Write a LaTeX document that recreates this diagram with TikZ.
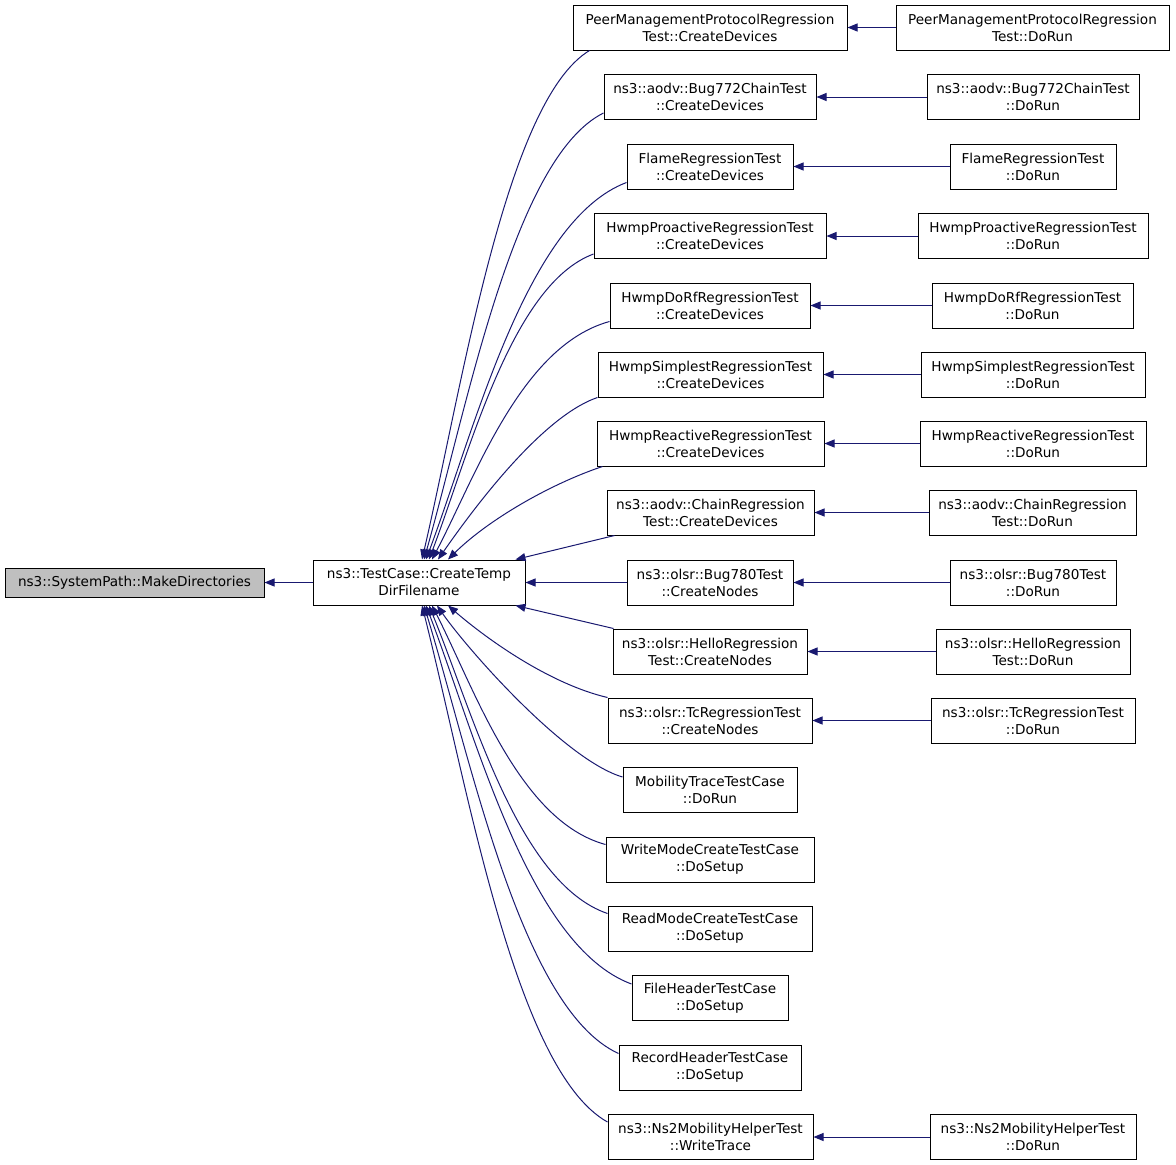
\documentclass[tikz,border=0pt]{standalone}
\usepackage{fontspec}
\setmainfont{DejaVu Sans}
\usetikzlibrary{arrows.meta,calc}
\definecolor{edgeblue}{HTML}{191970}
\definecolor{boxgray}{HTML}{BFBFBF}
\begin{document}
\begin{tikzpicture}[x=1pt,y=-1pt,
  box/.style={draw=black,line width=1pt,fill=white,inner sep=0pt,minimum height=45pt,align=center,
    font=\fontsize{13.6}{17}\selectfont},
  edge/.style={draw=edgeblue,line width=1pt,-{Triangle[length=10pt,width=8pt]},fill=none},
]
\useasboundingbox (0,0) rectangle (1176,1165);
% left
\node[box,fill=boxgray,minimum width=259pt,minimum height=29pt] (m) at (134.5,582.5) {ns3::SystemPath::MakeDirectories};
\node[box,minimum width=212pt] (t) at (419,582.5) {ns3::TestCase::CreateTemp\\DirFilename};
% column 2
\node[box,minimum width=274pt] (c1) at (710,27.5) {PeerManagementProtocolRegression\\Test::CreateDevices};
\node[box,minimum width=212pt] (c2) at (710,97) {ns3::aodv::Bug772ChainTest\\::CreateDevices};
\node[box,minimum width=166pt] (c3) at (710,166.5) {FlameRegressionTest\\::CreateDevices};
\node[box,minimum width=232pt] (c4) at (710,236) {HwmpProactiveRegressionTest\\::CreateDevices};
\node[box,minimum width=200pt] (c5) at (710,305.5) {HwmpDoRfRegressionTest\\::CreateDevices};
\node[box,minimum width=225pt] (c6) at (710.5,374.5) {HwmpSimplestRegressionTest\\::CreateDevices};
\node[box,minimum width=227pt] (c7) at (710.5,443.5) {HwmpReactiveRegressionTest\\::CreateDevices};
\node[box,minimum width=207pt] (c8) at (710.5,512.5) {ns3::aodv::ChainRegression\\Test::CreateDevices};
\node[box,minimum width=166pt] (c9) at (710,582.5) {ns3::olsr::Bug780Test\\::CreateNodes};
\node[box,minimum width=194pt] (c10) at (710,651.5) {ns3::olsr::HelloRegression\\Test::CreateNodes};
\node[box,minimum width=204pt] (c11) at (710,720.5) {ns3::olsr::TcRegressionTest\\::CreateNodes};
\node[box,minimum width=174pt] (c12) at (710,790) {MobilityTraceTestCase\\::DoRun};
\node[box,minimum width=208pt] (c13) at (710,859.5) {WriteModeCreateTestCase\\::DoSetup};
\node[box,minimum width=204pt] (c14) at (710,928.5) {ReadModeCreateTestCase\\::DoSetup};
\node[box,minimum width=156pt] (c15) at (710,998) {FileHeaderTestCase\\::DoSetup};
\node[box,minimum width=182pt] (c16) at (710,1067.5) {RecordHeaderTestCase\\::DoSetup};
\node[box,minimum width=205pt] (c17) at (710.5,1137) {ns3::Ns2MobilityHelperTest\\::WriteTrace};
% column 3
\node[box,minimum width=273pt] (d1) at (1032.5,27.5) {PeerManagementProtocolRegression\\Test::DoRun};
\node[box,minimum width=212pt] (d2) at (1033,97) {ns3::aodv::Bug772ChainTest\\::DoRun};
\node[box,minimum width=166pt] (d3) at (1033,166.5) {FlameRegressionTest\\::DoRun};
\node[box,minimum width=230pt] (d4) at (1033,236) {HwmpProactiveRegressionTest\\::DoRun};
\node[box,minimum width=201pt] (d5) at (1032.5,305.5) {HwmpDoRfRegressionTest\\::DoRun};
\node[box,minimum width=224pt] (d6) at (1033,374.5) {HwmpSimplestRegressionTest\\::DoRun};
\node[box,minimum width=226pt] (d7) at (1033,443.5) {HwmpReactiveRegressionTest\\::DoRun};
\node[box,minimum width=207pt] (d8) at (1032.5,512.5) {ns3::aodv::ChainRegression\\Test::DoRun};
\node[box,minimum width=166pt] (d9) at (1033,582.5) {ns3::olsr::Bug780Test\\::DoRun};
\node[box,minimum width=194pt] (d10) at (1033,651.5) {ns3::olsr::HelloRegression\\Test::DoRun};
\node[box,minimum width=204pt] (d11) at (1033,720.5) {ns3::olsr::TcRegressionTest\\::DoRun};
\node[box,minimum width=206pt] (d17) at (1033,1137) {ns3::Ns2MobilityHelperTest\\::DoRun};
% edges
\draw[edge] (t.west) -- (m.east);
\foreach \i in {1,...,11,17} \draw[edge] (d\i.west) -- (c\i.east);
\draw[edge] (c9.west) -- (t.east);
\draw[edge] ($(c8.south west)+(8,0)$) -- ($(t.north east)+(-10,0)$);
\draw[edge] ($(c10.north west)+(1,0)$) -- ($(t.south east)+(-10,0)$);
% upper fan
\draw[edge] ($(c1.south west)+(17,0)$) .. controls (506,101) and (463.2,381.5) .. ($(t.north)+(3,0)$);
\draw[edge] ($(c2.west)+(0,16)$) .. controls (514,157.7) and (468.1,403.5) .. ($(t.north)+(5,0)$);
\draw[edge] ($(c3.west)+(0,16)$) .. controls (526.5,220.3) and (475.2,427.9) .. ($(t.north)+(7,0)$);
\draw[edge] ($(c4.west)+(0,18)$) .. controls (511.5,284.6) and (469.4,452.9) .. ($(t.north)+(10,0)$);
\draw[edge] ($(c5.west)+(0,16)$) .. controls (521,345.8) and (475.6,476.5) .. ($(t.north)+(13,0)$);
\draw[edge] (c6.south west) .. controls (540,417) and (469,515) .. ($(t.north)+(19,0)$);
\draw[edge] ($(c7.south west)+(6,0)$) .. controls (550,484) and (488,520) .. ($(t.north)+(29,0)$);
% lower fan
\draw[edge] (c11.north west) .. controls (550,684) and (488,640) .. ($(t.south)+(29,0)$);
\draw[edge] ($(c12.west)+(0,-13)$) .. controls (565,760) and (468,650) .. ($(t.south)+(18,0)$);
\draw[edge] ($(c13.west)+(0,-15)$) .. controls (519,821) and (474.6,688.8) .. ($(t.south)+(13,0)$);
\draw[edge] ($(c14.west)+(0,-15)$) .. controls (518.5,883.1) and (472.9,713) .. ($(t.south)+(10,0)$);
\draw[edge] ($(c15.west)+(0,-14)$) .. controls (529,946.1) and (476.5,737.7) .. ($(t.south)+(7,0)$);
\draw[edge] ($(c16.west)+(0,-14)$) .. controls (521.5,1009.1) and (471.8,762) .. ($(t.south)+(5,0)$);
\draw[edge] ($(c17.west)+(0,-15)$) .. controls (515,1070.3) and (467.6,786) .. ($(t.south)+(3,0)$);
\end{tikzpicture}
\end{document}
